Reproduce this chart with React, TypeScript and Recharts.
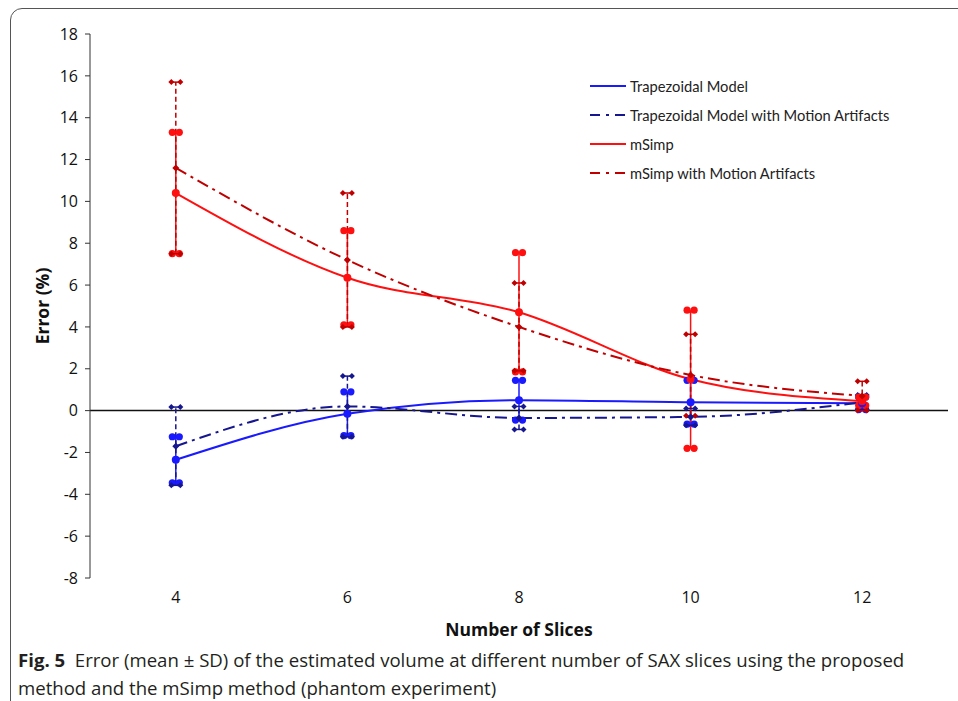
import React from "react";
import {
  ComposedChart,
  Line,
  Scatter,
  XAxis,
  YAxis,
  ErrorBar,
  ReferenceLine,
  Legend,
} from "recharts";

// values (error %, mean and SD)
const slices = [4, 6, 8, 10, 12];
const trapMean = [-2.35, -0.15, 0.5, 0.4, 0.35];
const trapSd = [1.1, 1.05, 0.95, 1.05, 0.3];
const trapMaMean = [-1.7, 0.2, -0.35, -0.3, 0.4];
const trapMaSd = [1.87, 1.45, 0.55, 0.4, 0.35];
const msimpMean = [10.4, 6.35, 4.7, 1.5, 0.45];
const msimpSd = [2.9, 2.25, 2.85, 3.3, 0.2];
const msimpMaMean = [11.6, 7.2, 4.0, 1.7, 0.7];
const msimpMaSd = [4.1, 3.2, 2.1, 1.95, 0.7];

const xTicks = [4, 6, 8, 10, 12];
const yTicks = [-8, -6, -4, -2, 0, 2, 4, 6, 8, 10, 12, 14, 16, 18];

const DASH_DOT = "12 5 3 5";

const series = [
  { key: "trap", name: "Trapezoidal Model", mean: trapMean, sd: trapSd, color: "#1a1aff", dashed: false },
  { key: "trapMa", name: "Trapezoidal Model with Motion Artifacts", mean: trapMaMean, sd: trapMaSd, color: "#16168f", dashed: true },
  { key: "msimp", name: "mSimp", mean: msimpMean, sd: msimpSd, color: "#ff1010", dashed: false },
  { key: "msimpMa", name: "mSimp with Motion Artifacts", mean: msimpMaMean, sd: msimpMaSd, color: "#c00000", dashed: true },
];

const data = slices.map((s, i) => {
  const row: Record<string, number> = { slices: s };
  series.forEach((se) => {
    row[se.key] = se.mean[i];
    row[se.key + "Sd"] = se.sd[i];
    row[se.key + "Hi"] = se.mean[i] + se.sd[i];
    row[se.key + "Lo"] = se.mean[i] - se.sd[i];
  });
  return row;
});

const diamond = (x: number, y: number, r: number) =>
  `M${x},${y - r}L${x + r},${y}L${x},${y + r}L${x - r},${y}Z`;

function capShape(color: string, dashed: boolean) {
  return (p: any) => {
    const { cx, cy } = p;
    if (dashed) {
      return (
        <g>
          <line x1={cx - 5} x2={cx + 5} y1={cy} y2={cy} stroke={color} strokeWidth={1.5} />
          <path d={diamond(cx - 4.5, cy, 3)} fill={color} />
          <path d={diamond(cx + 4.5, cy, 3)} fill={color} />
        </g>
      );
    }
    return (
      <g>
        <circle cx={cx - 3.5} cy={cy} r={3.6} fill={color} />
        <circle cx={cx + 3.5} cy={cy} r={3.6} fill={color} />
      </g>
    );
  };
}

function meanDot(color: string, dashed: boolean) {
  return (p: any) =>
    dashed ? (
      <path key={p.index} d={diamond(p.cx, p.cy, 3.5)} fill={color} />
    ) : (
      <circle key={p.index} cx={p.cx} cy={p.cy} r={4} fill={color} />
    );
}

function renderLegend() {
  return (
    <div style={{ fontFamily: "Lato", fontSize: 14.7, color: "#222" }}>
      {series.map((se) => (
        <div key={se.key} style={{ display: "flex", alignItems: "center", height: 29 }}>
          <svg width={40} height={10}>
            <line
              x1={2}
              x2={38}
              y1={5}
              y2={5}
              stroke={se.color}
              strokeWidth={2}
              strokeDasharray={se.dashed ? "10 6 3 6" : undefined}
            />
          </svg>
          <span style={{ marginLeft: 2 }}>{se.name}</span>
        </div>
      ))}
    </div>
  );
}

export default function App() {
  return (
    <div
      style={{
        position: "absolute",
        left: 0,
        top: 0,
        width: 958,
        height: 701,
        background: "#fff",
        overflow: "hidden",
      }}
    >
      <div
        style={{
          position: "absolute",
          left: 10,
          top: 8,
          width: 1000,
          height: 800,
          border: "1px solid #555",
          borderRadius: 12,
        }}
      />
      <div style={{ position: "absolute", left: 0, top: 0 }}>
        <ComposedChart
          width={958}
          height={640}
          data={data}
          margin={{ top: 34, right: 10, bottom: 0, left: 0 }}
        >
          <XAxis
            dataKey="slices"
            type="number"
            domain={[3, 13]}
            ticks={xTicks}
            axisLine={false}
            tickLine={false}
            height={62}
            tickMargin={8}
            tick={{ fontFamily: "Open Sans", fontSize: 16, fill: "#111" }}
            label={{
              value: "Number of Slices",
              position: "insideBottom",
              offset: 4,
              style: { fontFamily: "Open Sans", fontSize: 17.5, fontWeight: 700, fill: "#111" },
            }}
          />
          <YAxis
            type="number"
            domain={[-8, 18]}
            ticks={yTicks}
            interval={0}
            width={90}
            tickSize={5}
            tickMargin={7}
            axisLine={{ stroke: "#333" }}
            tickLine={{ stroke: "#333" }}
            tick={{ fontFamily: "Open Sans", fontSize: 16, fill: "#111" }}
            label={{
              value: "Error (%)",
              angle: -90,
              position: "center",
              dx: -2,
              style: { fontFamily: "Open Sans", fontSize: 17.5, fontWeight: 700, fill: "#111" },
            }}
          />
          <ReferenceLine y={0} stroke="#111" strokeWidth={1.5} />
          {series.map((se) => (
            <Line
              key={se.key}
              dataKey={se.key}
              name={se.name}
              type="monotone"
              stroke={se.color}
              strokeWidth={2}
              strokeDasharray={se.dashed ? DASH_DOT : undefined}
              dot={meanDot(se.color, se.dashed)}
              activeDot={false}
              isAnimationActive={false}
            >
              <ErrorBar
                dataKey={se.key + "Sd"}
                direction="y"
                width={0}
                stroke={se.color}
                strokeWidth={1.5}
                strokeDasharray={se.dashed ? "5 3" : undefined}
              />
            </Line>
          ))}
          {series.map((se) => (
            <Scatter
              key={se.key + "Hi"}
              dataKey={se.key + "Hi"}
              shape={capShape(se.color, se.dashed)}
              legendType="none"
              isAnimationActive={false}
            />
          ))}
          {series.map((se) => (
            <Scatter
              key={se.key + "Lo"}
              dataKey={se.key + "Lo"}
              shape={capShape(se.color, se.dashed)}
              legendType="none"
              isAnimationActive={false}
            />
          ))}
          <Legend
            layout="vertical"
            verticalAlign="middle"
            align="center"
            content={renderLegend}
            wrapperStyle={{ left: 588, top: 71, width: 340 }}
          />
        </ComposedChart>
      </div>
      <div
        style={{
          position: "absolute",
          left: 18,
          top: 646,
          fontFamily: "'Open Sans', sans-serif",
          fontSize: 18.6,
          lineHeight: "28px",
          color: "#231f20",
          whiteSpace: "nowrap",
        }}
      >
        <div>
          <b>Fig. 5</b>&nbsp;&nbsp;Error (mean ± SD) of the estimated volume at different number of SAX slices using the proposed
        </div>
        <div>method and the mSimp method (phantom experiment)</div>
      </div>
    </div>
  );
}
